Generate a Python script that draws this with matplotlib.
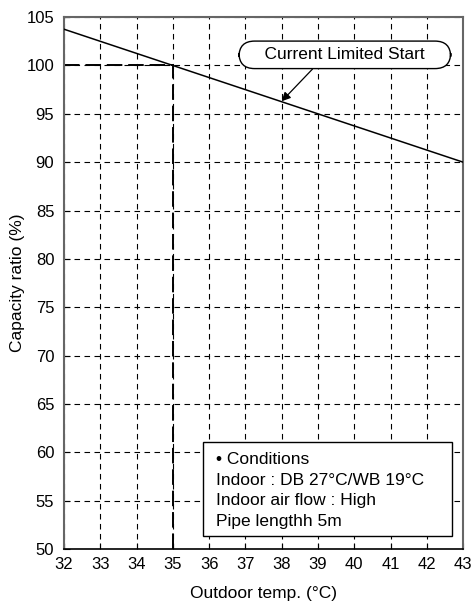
import matplotlib
matplotlib.use("Agg")
import matplotlib.pyplot as plt
from matplotlib.patches import Rectangle

plt.rcParams['font.family'] = ['Liberation Sans', 'DejaVu Sans']

# data
temp = [32, 43]
ratio = [103.75, 90.0]
ref_temp = 35
ref_ratio = 100
xticks = list(range(32, 44))
yticks = list(range(50, 106, 5))
note_lines = ["\u2022 Conditions", "Indoor : DB 27\u00b0C/WB 19\u00b0C",
              "Indoor air flow : High", "Pipe lengthh 5m"]

fig = plt.figure(figsize=(4.74, 6.03), dpi=100)
ax = fig.add_axes([0.135, 0.0896, 0.842, 0.882])

ax.plot(temp, ratio, color='black', lw=1.1, zorder=3)
ax.plot([ref_temp, ref_temp], [50, ref_ratio], color='black', lw=1.4,
        linestyle=(0, (8, 3)), zorder=2)
ax.plot([32, ref_temp], [ref_ratio, ref_ratio], color='black', lw=1.4,
        linestyle=(0, (8, 3)), zorder=2)

ax.set_xlim(32, 43)
ax.set_ylim(50, 105)
ax.set_xticks(xticks)
ax.set_yticks(yticks)
ax.grid(True, color='black', linestyle=(0, (5, 4)), lw=0.8)
ax.tick_params(direction='in', length=4, labelsize=12, colors='black')
ax.tick_params(axis='x', pad=6)
ax.tick_params(axis='y', pad=7)
for s in ['left', 'top', 'right']:
    ax.spines[s].set_color('#666666')
    ax.spines[s].set_linewidth(1.5)
ax.spines['bottom'].set_color('black')
ax.spines['bottom'].set_linewidth(1.2)

ax.set_xlabel('Outdoor temp. (\u00b0C)', fontsize=12.5, labelpad=10)
ax.set_ylabel('Capacity ratio (%)', fontsize=12.5, labelpad=1)

ax.annotate('    Current Limited Start    ', xy=(38.0, 96.3), xytext=(39.74, 101.1),
            ha='center', va='center', fontsize=12.5,
            bbox=dict(boxstyle='round,pad=0.36,rounding_size=0.9',
                      fc='white', ec='black', lw=1.0),
            arrowprops=dict(arrowstyle='-|>', color='black', lw=0.9,
                            shrinkA=0, shrinkB=0, mutation_scale=13,
                            relpos=(0.37, 0.0)),
            zorder=5)

# conditions box (axes fraction coords)
ax.add_patch(Rectangle((0.349, 0.024), 0.624, 0.177, transform=ax.transAxes,
                       fc='white', ec='black', lw=1.0, zorder=5))
ax.text(0.381, 0.110, "\n".join(note_lines), transform=ax.transAxes,
        ha='left', va='center', fontsize=12.5, linespacing=1.45, zorder=6)

fig.savefig('out.png', dpi=100)
